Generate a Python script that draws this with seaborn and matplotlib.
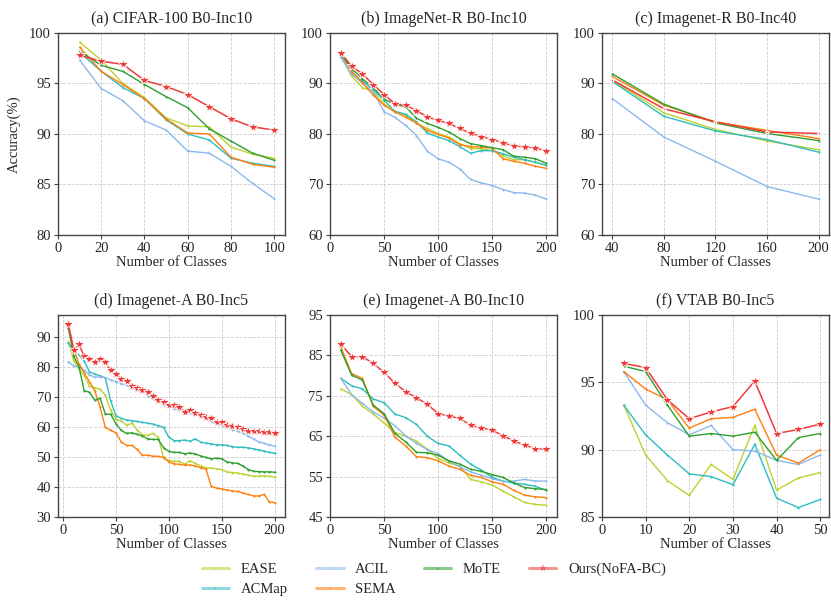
import numpy as np
import pandas as pd
import matplotlib
matplotlib.use("Agg")
import matplotlib.pyplot as plt
from matplotlib.lines import Line2D
import seaborn as sns

# ==========================================
# DATA
# ==========================================
methods = ["EASE", "ACMap", "ACIL", "SEMA", "MoTE", "Ours(NoFA-BC)"]
colors = ["#bcd22f", "#2ebdc0", "#8db8ee", "#ff7f0e", "#2ca02c", "#f03a3a"]

# (a) CIFAR-100 B0-Inc10
a_x = [10, 20, 30, 40, 50, 60, 70, 80, 90, 100]
a_ease = [99.1, 97.3, 95.0, 93.6, 91.6, 90.8, 90.7, 88.7, 88.0, 87.6]
a_acmap = [98.1, 96.2, 94.6, 93.5, 91.4, 90.0, 89.4, 87.6, 87.1, 86.8]
a_acil = [97.3, 94.5, 93.3, 91.3, 90.4, 88.3, 88.1, 86.8, 85.1, 83.6]
a_sema = [98.6, 96.2, 94.9, 93.5, 91.5, 90.1, 90.0, 87.7, 87.0, 86.7]
a_mote = [98.2, 96.8, 96.2, 94.9, 93.7, 92.6, 90.5, 89.3, 88.1, 87.4]
a_ours = [97.8, 97.2, 96.9, 95.3, 94.7, 93.9, 92.7, 91.5, 90.7, 90.4]

# (b) ImageNet-R B0-Inc10
b_x = list(range(10, 201, 10))
b_ease = [95.5, 91.4, 89.2, 88.4, 86.0, 84.4, 83.7, 82.1, 81.1, 80.1,
          79.4, 78.1, 77.1, 77.1, 76.7, 75.7, 74.9, 74.9, 74.4, 73.8]
b_acmap = [95.2, 92.0, 90.5, 88.8, 86.7, 84.5, 83.9, 82.4, 80.2, 79.4,
           78.7, 77.5, 76.2, 76.7, 76.7, 76.1, 75.4, 74.9, 74.4, 73.8]
b_acil = [95.3, 91.9, 90.0, 88.4, 84.4, 83.3, 81.7, 79.7, 76.6, 75.1,
          74.4, 73.1, 71.0, 70.3, 69.8, 69.0, 68.4, 68.3, 67.9, 67.1]
b_sema = [96.0, 92.4, 90.2, 87.7, 85.7, 84.4, 83.3, 82.2, 80.7, 79.9,
          79.2, 77.9, 77.5, 77.4, 77.2, 75.1, 74.6, 74.2, 73.6, 73.2]
b_mote = [95.8, 93.0, 90.9, 89.2, 86.9, 85.9, 85.4, 83.1, 82.1, 81.3,
          80.4, 79.1, 78.1, 77.7, 77.3, 76.9, 75.6, 75.4, 75.1, 74.2]
b_ours = [96.1, 93.4, 91.9, 89.8, 87.8, 86.0, 85.7, 84.6, 83.4, 82.7,
          82.1, 81.1, 80.1, 79.5, 78.9, 78.3, 77.6, 77.5, 77.2, 76.7]

# (c) Imagenet-R B0-Inc40
c_x = [40, 80, 120, 160, 200]
c_ease = [90.6, 84.2, 80.9, 78.6, 76.9]
c_acmap = [90.4, 83.5, 80.6, 78.9, 76.4]
c_acil = [87.0, 79.4, 74.6, 69.6, 67.1]
c_sema = [91.4, 85.7, 82.4, 80.7, 79.1]
c_mote = [91.9, 85.9, 82.2, 80.1, 78.7]
c_ours = [90.7, 85.0, 82.4, 80.4, 80.1]

# (d) Imagenet-A B0-Inc5
d_x = list(range(5, 201, 5))
d_ease = [88.3, 82.0, 79.5, 77.0, 73.5, 73.0, 72.5, 70.5, 65.5, 62.5,
          62.0, 60.5, 61.2, 59.0, 57.3, 57.2, 57.8, 56.5, 49.5, 48.8,
          48.5, 48.5, 47.6, 48.7, 47.8, 47.0, 46.3, 46.3, 46.0, 45.8,
          45.0, 44.8, 44.6, 44.3, 43.9, 43.6, 43.6, 43.7, 43.5, 43.3]
d_acmap = [88.0, 85.2, 84.0, 82.0, 78.3, 77.5, 77.0, 76.2, 68.7, 63.7,
           62.8, 62.3, 62.0, 61.8, 61.5, 61.2, 60.9, 60.4, 59.8, 56.5,
           55.4, 55.4, 55.6, 55.2, 56.0, 54.9, 54.6, 54.3, 54.0, 54.0,
           53.8, 53.4, 53.2, 53.2, 53.0, 52.7, 52.3, 51.9, 51.5, 51.2]
d_acil = [81.7, 80.3, 79.8, 78.8, 77.3, 76.5, 76.6, 76.4, 75.6, 75.0,
          74.4, 73.8, 73.0, 72.3, 71.5, 70.3, 69.3, 68.3, 67.3, 66.8,
          66.0, 65.6, 64.8, 64.5, 64.0, 63.4, 62.7, 61.8, 61.0, 60.5,
          59.8, 59.1, 58.5, 57.8, 56.8, 56.0, 55.0, 54.5, 54.0, 53.5]
d_sema = [94.0, 86.0, 81.0, 78.0, 75.0, 72.0, 66.5, 59.8, 58.8, 58.0,
          55.0, 53.8, 53.8, 52.5, 50.5, 50.6, 50.2, 50.2, 49.8, 48.3,
          47.7, 47.5, 47.3, 47.3, 47.0, 46.4, 46.0, 40.2, 39.6, 39.3,
          39.0, 38.7, 38.5, 38.0, 37.5, 37.0, 37.0, 37.5, 35.0, 34.8]
d_mote = [93.0, 83.5, 80.0, 72.0, 71.5, 68.8, 69.5, 64.2, 64.2, 61.0,
          58.8, 57.8, 58.0, 57.5, 57.0, 56.0, 55.8, 55.8, 53.0, 51.8,
          51.5, 51.5, 51.0, 51.3, 51.0, 50.3, 49.8, 49.4, 49.5, 49.4,
          48.3, 48.0, 47.8, 47.0, 45.8, 45.2, 45.1, 45.0, 45.0, 44.9]
d_ours = [94.1, 85.5, 87.5, 83.4, 82.5, 81.4, 82.7, 81.4, 78.8, 77.5,
          75.9, 75.1, 73.6, 72.9, 72.2, 71.7, 70.3, 69.0, 68.3, 67.2,
          67.3, 66.5, 65.0, 65.7, 64.6, 63.9, 63.4, 62.8, 61.7, 61.5,
          60.7, 60.4, 60.1, 59.3, 58.7, 58.7, 58.5, 58.4, 58.4, 57.8]

# (e) Imagenet-A B0-Inc10
e_x = list(range(10, 201, 10))
e_ease = [76.7, 75.3, 72.4, 70.5, 68.3, 65.9, 65.0, 63.8, 61.8, 59.5,
          58.4, 57.6, 54.3, 53.7, 52.9, 51.4, 50.0, 48.6, 48.1, 47.9]
e_acmap = [79.3, 77.5, 76.7, 74.2, 73.3, 70.5, 69.6, 67.9, 65.0, 63.2,
           62.6, 60.3, 58.1, 56.6, 54.8, 53.9, 53.4, 53.1, 52.6, 51.6]
e_acil = [79.3, 75.3, 73.1, 71.0, 69.5, 67.6, 65.1, 63.2, 61.7, 60.7,
          58.9, 57.4, 56.2, 55.3, 54.5, 53.8, 53.9, 54.3, 53.9, 53.9]
e_sema = [87.1, 80.5, 79.3, 72.4, 70.2, 64.8, 62.6, 59.9, 59.7, 58.9,
          57.6, 56.8, 55.3, 54.8, 53.7, 53.1, 51.6, 50.4, 50.0, 49.8]
e_mote = [86.3, 80.1, 78.9, 72.7, 70.6, 65.7, 63.6, 61.0, 60.9, 60.3,
          58.9, 58.1, 56.8, 56.3, 55.5, 54.8, 53.4, 52.3, 52.0, 51.8]
e_ours = [87.8, 84.7, 84.7, 83.0, 80.8, 78.1, 76.0, 74.5, 72.9, 70.6,
          70.0, 69.4, 67.7, 67.1, 66.5, 65.1, 63.8, 62.8, 61.9, 61.8]

# (f) VTAB B0-Inc5
f_x = [5, 10, 15, 20, 25, 30, 35, 40, 45, 50]
f_ease = [93.3, 89.6, 87.7, 86.6, 88.9, 87.8, 91.8, 87.0, 87.9, 88.3]
f_acmap = [93.3, 91.1, 89.6, 88.2, 88.0, 87.4, 90.4, 86.4, 85.7, 86.3]
f_acil = [95.8, 93.3, 92.0, 91.1, 91.8, 90.0, 89.9, 89.2, 88.9, 89.6]
f_sema = [95.8, 94.5, 93.7, 91.6, 92.3, 92.4, 93.0, 89.6, 89.0, 90.0]
f_mote = [96.2, 95.8, 93.3, 91.0, 91.2, 91.0, 91.3, 89.2, 90.9, 91.2]
f_ours = [96.4, 96.1, 93.7, 92.3, 92.8, 93.2, 95.1, 91.2, 91.5, 91.9]

panels = [
    ("(a) CIFAR-100 B0-Inc10", a_x, [a_ease, a_acmap, a_acil, a_sema, a_mote, a_ours]),
    ("(b) ImageNet-R B0-Inc10", b_x, [b_ease, b_acmap, b_acil, b_sema, b_mote, b_ours]),
    ("(c) Imagenet-R B0-Inc40", c_x, [c_ease, c_acmap, c_acil, c_sema, c_mote, c_ours]),
    ("(d) Imagenet-A B0-Inc5", d_x, [d_ease, d_acmap, d_acil, d_sema, d_mote, d_ours]),
    ("(e) Imagenet-A B0-Inc10", e_x, [e_ease, e_acmap, e_acil, e_sema, e_mote, e_ours]),
    ("(f) VTAB B0-Inc5", f_x, [f_ease, f_acmap, f_acil, f_sema, f_mote, f_ours]),
]

# axis settings per panel: xlim, xticks, ylim, yticks
axis_cfg = [
    ((0, 105), [0, 20, 40, 60, 80, 100], (80, 100), [80, 85, 90, 95, 100]),
    ((0, 210), [0, 50, 100, 150, 200], (60, 100), [60, 70, 80, 90, 100]),
    ((32, 208), [40, 80, 120, 160, 200], (60, 100), [60, 70, 80, 90, 100]),
    ((-4.75, 209.75), [0, 50, 100, 150, 200], (30, 97.2), [30, 40, 50, 60, 70, 80, 90]),
    ((0, 210), [0, 50, 100, 150, 200], (45, 95), [45, 55, 65, 75, 85, 95]),
    ((0, 52), [0, 10, 20, 30, 40, 50], (85, 100), [85, 90, 95, 100]),
]

# ==========================================
# STYLE
# ==========================================
sns.set_style("ticks")
plt.rcParams["font.family"] = ["Liberation Serif", "DejaVu Serif"]

fig, axes = plt.subplots(2, 3, figsize=(8.31, 6.02), dpi=100)
fig.subplots_adjust(left=0.0698, right=0.9976, top=0.9452, bottom=0.1412,
                    wspace=0.198, hspace=0.396)

for i, (ax, (title, xs, series), cfg) in enumerate(zip(axes.flat, panels, axis_cfg)):
    for name, col, ys in zip(methods, colors, series):
        if name.startswith("Ours"):
            ms = 3.5 if i == 2 else 7
            sns.lineplot(x=xs, y=ys, ax=ax, color=col, marker="*", markersize=ms,
                         markeredgewidth=0.6, linewidth=1.1, zorder=5)
        else:
            sns.lineplot(x=xs, y=ys, ax=ax, color=col, marker=".", markersize=3,
                         markeredgewidth=0, linewidth=1.0)
    xlim, xticks, ylim, yticks = cfg
    ax.set_xlim(*xlim)
    ax.set_ylim(*ylim)
    ax.set_xticks(xticks)
    ax.set_yticks(yticks)
    ax.set_title(title, fontsize=11.5, pad=7)
    ax.set_xlabel("Number of Classes", fontsize=10.5, labelpad=1)
    ax.set_ylabel("Accuracy(%)" if i == 0 else "", fontsize=10.5, labelpad=6)
    ax.tick_params(labelsize=10.5, length=3, width=0.8, color="#444444", pad=2)
    ax.grid(True, linestyle="--", linewidth=0.6, color="#cccccc")
    for sp in ax.spines.values():
        sp.set_color("#444444")
        sp.set_linewidth(1.0)

handles = []
for name, col in zip(methods, colors):
    mk = "*" if name.startswith("Ours") else "."
    handles.append(Line2D([], [], color=col, linewidth=2.2, alpha=0.55, marker=mk,
                          markersize=6 if mk == "*" else 3, markerfacecolor=col,
                          markeredgewidth=0))
fig.legend(handles, methods, loc="upper center", ncol=4, frameon=False,
           fontsize=10.5, bbox_to_anchor=(0.522, 0.087), columnspacing=1.9,
           handlelength=1.9, handletextpad=0.8, labelspacing=0.45)

fig.savefig("out.png", dpi=100)
